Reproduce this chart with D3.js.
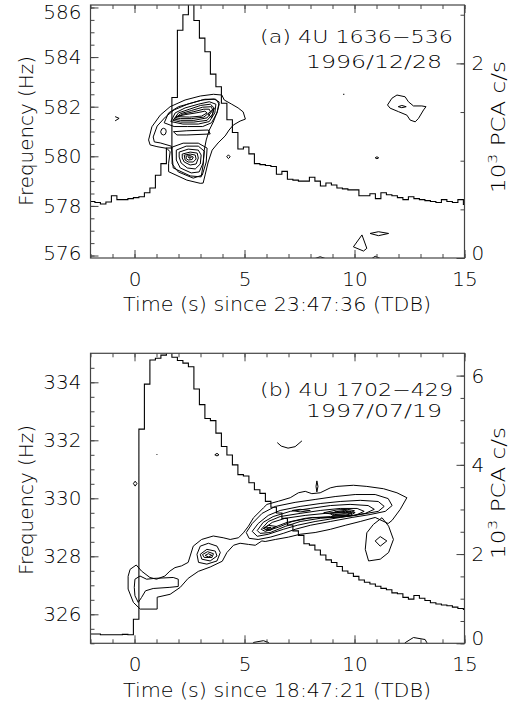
<!DOCTYPE html>
<html>
<head>
<meta charset="utf-8">
<script src="https://cdn.jsdelivr.net/npm/d3@7"></script>
<style>
  body { margin: 0; background: #fff; }
  text { font-family: "DejaVu Sans", sans-serif; font-weight: 200; fill: #000; }
</style>
</head>
<body>
<div id="chart"></div>
<script>
// light curves, 0.25 s bins, first bin starts at t = -2.05 s, in 10^3 PCA c/s
var binStart = -2.05, binWidth = 0.25;
var rateA = [0.58,0.57,0.555,0.575,0.64,0.60,0.60,0.61,0.62,0.63,0.67,0.72,0.85,0.97,1.13,1.65,2.34,2.50,2.75,2.44,
  2.26,2.12,1.89,1.76,1.59,1.42,1.29,1.12,1.14,1.07,0.97,0.96,0.95,0.94,0.86,0.89,0.81,0.80,0.79,0.79,
  0.83,0.79,0.74,0.77,0.75,0.72,0.71,0.70,0.70,0.64,0.64,0.66,0.61,0.67,0.65,0.64,0.62,0.60,0.63,0.61,
  0.60,0.59,0.58,0.57,0.60,0.58,0.57,0.60,0.55];
var rateB = [0.21,0.21,0.19,0.19,0.19,0.19,0.20,0.19,0.54,4.80,5.81,6.35,6.39,6.46,6.55,6.41,6.34,6.28,6.20,5.70,
  5.35,5.04,4.99,4.71,4.41,4.22,4.00,3.78,3.75,3.60,3.44,3.36,3.18,3.05,2.92,2.80,2.65,2.52,2.42,2.23,
  2.20,2.09,1.98,1.87,1.81,1.72,1.62,1.57,1.50,1.42,1.37,1.33,1.28,1.23,1.20,1.13,1.11,1.03,0.99,1.07,
  1.01,0.96,0.91,0.88,0.86,0.84,0.81,0.78,0.76];

// tick labels
var timeTicks = [0, 5, 10, 15];
var freqTicksA = [576, 578, 580, 582, 584, 586];
var freqTicksB = [326, 328, 330, 332, 334];
var rateTicksA = [0, 2];
var rateTicksB = [0, 2, 4, 6];

// power contours, [time (s), frequency (Hz)]
var ringsA = [
  [[0.64,580.66],[0.79,581.19],[1.17,581.66],[1.62,582.00],[2.30,582.27],[2.99,582.43],[3.59,582.50],[3.97,582.47],[4.08,582.27],[4.40,582.11],[4.71,581.95],[4.94,581.79],[5.04,581.50],[4.80,581.42],[4.49,581.26],[4.30,581.06],[4.12,580.82],[3.80,580.54],[3.53,580.25],[3.35,579.77],[3.21,579.25],[3.12,578.92],[2.99,578.91],[2.38,579.04],[1.55,579.38],[1.55,579.72],[1.62,580.18],[1.47,580.32],[1.02,580.39],[0.71,580.46]],
  [[0.85,580.78],[1.03,581.22],[1.40,581.58],[1.80,581.87],[2.44,582.11],[3.08,582.27],[3.62,582.31],[3.85,582.19],[3.76,581.79],[3.58,581.38],[3.40,581.06],[3.26,580.66],[3.17,580.25],[3.12,579.65],[3.03,579.17],[2.53,579.21],[1.76,579.53],[1.71,580.05],[1.67,580.41],[1.17,580.54],[0.90,580.58]],
  [[1.35,581.35],[1.55,581.75],[2.0,582.0],[2.6,582.15],[3.2,582.3],[3.7,582.3],[3.85,582.1],[3.75,581.75],[3.5,581.35],[3.1,581.2],[2.4,581.2],[1.8,581.2]],
  [[1.65,581.4],[1.85,581.75],[2.3,581.95],[2.9,582.1],[3.4,582.2],[3.7,582.1],[3.65,581.75],[3.4,581.4],[2.9,581.3],[2.2,581.3]],
  [[1.75,581.45],[2.0,581.75],[2.5,581.9],[3.0,582.05],[3.45,582.1],[3.62,581.95],[3.55,581.7],[3.3,581.45],[2.7,581.38],[2.1,581.38]],
  [[1.8,581.5],[2.1,581.72],[2.6,581.85],[3.1,581.98],[3.5,582.0],[3.55,581.85],[3.3,581.55],[2.7,581.45],[2.1,581.45]],
  [[1.85,581.55],[2.2,581.7],[2.7,581.8],[3.15,581.9],[3.4,581.9],[3.45,581.8],[3.15,581.58],[2.6,581.52],[2.1,581.52]],
  [[1.9,581.6],[2.3,581.68],[2.8,581.75],[3.2,581.82],[3.3,581.75],[3.05,581.62],[2.5,581.58]],
  [[3.35,581.7],[3.62,581.95],[3.5,581.55]],
  [[1.77,580.99],[2.38,581.03],[3.36,581.06],[3.44,580.90],[2.38,580.86],[1.93,580.86]],
  [[1.71,580.37],[2.21,580.53],[2.90,580.53],[3.30,580.33],[3.26,579.77],[3.08,579.24],[2.67,579.12],[1.99,579.37],[1.71,579.69]],
  [[1.90,580.25],[2.35,580.41],[2.90,580.41],[3.17,580.21],[3.12,579.73],[2.94,579.37],[2.58,579.33],[2.08,579.53],[1.90,579.85]],
  [[2.03,580.17],[2.44,580.29],[2.90,580.25],[3.03,580.05],[2.99,579.69],[2.76,579.49],[2.40,579.53],[2.12,579.73],[2.03,579.97]],
  [[2.17,580.09],[2.53,580.17],[2.85,580.13],[2.90,579.93],[2.80,579.69],[2.53,579.65],[2.26,579.77],[2.17,579.93]],
  [[2.26,580.05],[2.53,580.09],[2.76,580.05],[2.80,579.89],[2.67,579.77],[2.44,579.77],[2.30,579.85]],
  [[2.35,580.01],[2.53,580.03],[2.67,579.97],[2.62,579.87],[2.44,579.85],[2.35,579.91]],
  [[2.44,579.97],[2.58,579.97],[2.53,579.91]],
  [[1.19,580.99],[1.24,581.10],[1.32,581.13],[1.42,581.09],[1.44,580.99],[1.40,580.89],[1.32,580.86],[1.23,580.89]],
  [[4.19,579.98],[4.27,580.06],[4.35,579.98],[4.27,579.91]],
  [[11.50,582.07],[11.70,582.34],[11.93,582.47],[12.30,582.40],[12.45,582.20],[12.68,582.03],[13.06,582.03],[13.25,582.00],[13.14,581.87],[12.91,581.53],[12.76,581.39],[12.53,581.46],[12.38,581.66],[12.00,581.80],[11.62,581.94]],
  [[11.99,582.00],[12.15,582.05],[12.35,582.00],[12.15,581.96]],
  [[10.94,579.94],[11.02,579.98],[11.10,579.94],[11.02,579.90]],
  [[9.95,576.35],[10.34,576.83],[10.56,576.29],[10.41,576.18]],
  [[10.71,576.89],[11.09,576.96],[11.55,576.89],[11.09,576.80]]
];
var tracesA = [
  [[-0.88,581.60],[-0.70,581.53],[-0.88,581.43]],
  [[8.15,575.80],[8.21,575.88],[8.44,575.95],[8.67,575.88],[8.72,575.80]],
  [[10.74,575.80],[10.79,575.88],[10.94,575.97],[11.17,575.88],[11.22,575.80]],
  [[9.48,582.50],[9.54,582.50]]
];

var ringsB = [
  [[-0.29,327.31],[-0.20,327.55],[0.08,327.70],[0.32,327.49],[0.70,327.27],[1.00,327.21],[1.38,327.32],[1.61,327.49],[1.84,327.61],[2.14,327.67],[2.44,327.79],[2.53,328.01],[2.67,328.35],[3.05,328.58],[3.58,328.70],[4.03,328.64],[4.35,328.58],[4.73,328.64],[4.95,328.81],[5.18,329.04],[5.41,329.33],[5.86,329.67],[6.02,329.79],[6.55,329.90],[7.08,330.02],[7.45,330.19],[7.76,330.24],[8.06,330.16],[8.44,330.19],[8.90,330.36],[9.20,330.41],[9.95,330.45],[10.56,330.41],[11.32,330.33],[11.93,330.19],[12.38,330.02],[12.08,329.62],[11.71,329.24],[11.53,329.13],[10.94,329.34],[10.26,329.20],[9.58,329.07],[8.90,328.93],[8.21,328.82],[7.53,328.76],[6.99,328.66],[6.40,328.58],[5.94,328.51],[5.79,328.53],[5.49,328.38],[5.18,328.41],[4.80,328.45],[4.50,328.38],[4.20,328.13],[3.99,327.83],[3.44,327.63],[2.90,327.48],[2.44,327.24],[2.08,326.93],[1.62,326.69],[1.03,326.59],[1.03,326.18],[0.26,326.18],[-0.05,326.41],[-0.29,326.87]],
  [[0.02,327.21],[0.25,327.32],[0.55,327.21],[0.93,327.24],[1.76,327.27],[1.99,327.21],[1.99,326.96],[1.61,326.93],[0.85,326.89],[0.50,326.81],[0.32,326.58],[0.17,326.41],[0.02,326.64],[-0.01,326.93]],
  [[2.84,328.07],[2.99,328.35],[3.36,328.45],[3.75,328.35],[3.90,328.13],[3.75,327.84],[3.29,327.73],[2.91,327.79]],
  [[2.99,328.07],[3.29,328.24],[3.67,328.18],[3.75,328.01],[3.44,327.84],[3.06,327.90]],
  [[3.09,328.06],[3.32,328.16],[3.59,328.09],[3.52,327.96],[3.17,327.96]],
  [[3.21,328.03],[3.36,328.09],[3.52,328.03],[3.36,327.98]],
  [[5.08,328.82],[5.35,329.13],[5.80,329.48],[6.40,329.72],[7.30,329.86],[8.21,329.96],[9.12,330.06],[10.03,330.13],[10.94,330.13],[11.53,329.99],[11.71,329.75],[11.40,329.55],[10.71,329.44],[9.89,329.34],[8.90,329.20],[7.99,329.07],[7.30,328.93],[6.76,328.79],[6.17,328.66],[5.62,328.58],[5.21,328.62]],
  [[5.35,328.86],[5.62,329.13],[6.08,329.41],[6.62,329.58],[7.53,329.72],[8.44,329.82],[9.35,329.89],[10.26,329.93],[11.08,329.89],[11.35,329.72],[11.08,329.55],[10.26,329.44],[9.35,329.34],[8.21,329.20],[7.40,329.07],[6.76,328.93],[6.08,328.76],[5.58,328.69]],
  [[5.58,328.89],[5.85,329.17],[6.30,329.37],[7.08,329.55],[7.99,329.65],[8.90,329.75],[9.80,329.79],[10.62,329.75],[10.90,329.62],[10.49,329.48],[9.58,329.37],[8.44,329.31],[7.53,329.20],[6.85,329.03],[6.17,328.82],[5.71,328.79]],
  [[5.76,328.93],[6.08,329.20],[6.62,329.37],[7.53,329.48],[8.44,329.58],[9.35,329.65],[10.12,329.65],[10.44,329.55],[10.03,329.41],[9.12,329.34],[8.08,329.34],[7.17,329.20],[6.53,329.00],[5.94,328.86]],
  [[5.90,328.96],[6.26,329.17],[6.85,329.31],[7.76,329.41],[8.67,329.48],[9.58,329.55],[10.03,329.51],[9.80,329.41],[8.90,329.37],[7.76,329.31],[6.94,329.17],[6.35,329.00],[5.99,328.89]],
  [[5.85,328.96],[6.08,329.07],[6.44,329.03],[6.17,328.89]],
  [[8.90,329.48],[9.58,329.51],[9.89,329.48],[9.58,329.41],[8.99,329.41]],
  [[8.60,329.50],[9.20,329.60],[9.70,329.62],[10.00,329.57],[9.70,329.46],[9.10,329.44]],
  [[9.10,329.53],[9.55,329.58],[9.85,329.55],[9.55,329.48]],
  [[5.99,328.98],[6.21,329.00],[6.08,328.95]],
  [[7.17,329.58],[7.53,329.62],[7.99,329.58],[7.53,329.53]],
  [[10.56,328.81],[10.86,329.10],[11.25,329.33],[11.55,329.04],[11.77,328.58],[11.55,328.13],[11.17,327.90],[10.64,327.84],[10.49,328.24]],
  [[10.94,328.53],[11.17,328.68],[11.47,328.53],[11.17,328.35]],
  [[-0.05,330.51],[0.03,330.59],[0.11,330.51],[0.03,330.42]],
  [[3.65,331.50],[3.75,331.55],[3.84,331.50],[3.75,331.46]],
  [[8.25,330.41],[8.29,330.60],[8.34,330.41],[8.29,330.22]]
];
var tracesB = [
  [[6.49,331.92],[6.67,331.80],[6.98,331.73],[7.30,331.78],[7.61,331.98]],
  [[5.35,324.95],[5.41,325.03],[5.86,325.09],[6.09,325.03],[6.15,324.95]],
  [[12.25,324.95],[12.30,325.02],[12.68,325.20],[13.21,325.13],[13.29,325.02],[13.33,324.95]],
  [[1.00,331.51],[1.04,331.51]]
];

var W = 526, H = 704, left = 90.5, right = 464.5;

var svg = d3.select("#chart").append("svg")
    .attr("width", W)
    .attr("height", H);

function drawPanel(p) {
  var g = svg.append("g");

  var x = d3.scaleLinear().domain([-2, 15]).range([left, right]);
  var y = d3.scaleLinear().domain(p.freqDomain).range([p.bottom, p.top]);
  var yr = d3.scaleLinear().domain(p.rateDomain).range([p.bottom, p.top]);

  g.append("clipPath").attr("id", "clip" + p.id)
    .append("rect")
      .attr("x", left).attr("y", p.top)
      .attr("width", right - left).attr("height", p.bottom - p.top);

  var plot = g.append("g").attr("clip-path", "url(#clip" + p.id + ")");

  // light curve as a histogram
  var steps = [];
  p.rate.forEach(function (c, i) {
    var t0 = binStart + i * binWidth;
    steps.push([t0, c], [t0 + binWidth, c]);
  });
  plot.append("path")
    .datum(steps)
    .attr("d", d3.line().x(d => x(d[0])).y(d => yr(d[1])))
    .attr("fill", "none")
    .attr("stroke", "#000")
    .attr("stroke-width", 1.1);

  var closedLine = d3.line().x(d => x(d[0])).y(d => y(d[1])).curve(d3.curveLinearClosed);
  var openLine = d3.line().x(d => x(d[0])).y(d => y(d[1]));

  plot.selectAll("path.ring")
    .data(p.rings)
    .enter().append("path")
      .attr("class", "ring")
      .attr("d", closedLine)
      .attr("fill", "none")
      .attr("stroke", "#000")
      .attr("stroke-width", 1);

  plot.selectAll("path.trace")
    .data(p.traces)
    .enter().append("path")
      .attr("class", "trace")
      .attr("d", openLine)
      .attr("fill", "none")
      .attr("stroke", "#000")
      .attr("stroke-width", 1);

  // axes, ticks pointing inward like the IDL plot
  function clampLabels(sel, scale) {
    sel.selectAll(".tick text").attr("y", function (d) {
      var py = scale(d);
      var c = Math.min(Math.max(py, p.top + 7.5), p.bottom - 5);
      return c - py;
    });
  }

  var minorTime = d3.range(-2, 15.01, 1);
  var minorFreq = d3.range(Math.ceil(p.freqDomain[0] * 2) / 2, p.freqDomain[1], 0.5);
  var minorRate = d3.range(0, p.rateDomain[1], 0.5);

  var axes = [
    [d3.axisLeft(y).tickValues(minorFreq).tickSize(-4).tickFormat(""), left, 0],
    [d3.axisRight(yr).tickValues(minorRate).tickSize(-4).tickFormat(""), right, 0],
    [d3.axisBottom(x).tickValues(minorTime).tickSize(-4).tickFormat(""), 0, p.bottom],
    [d3.axisTop(x).tickValues(minorTime).tickSize(-4).tickFormat(""), 0, p.top],
    [d3.axisTop(x).tickValues(timeTicks).tickSize(-8).tickFormat(""), 0, p.top]
  ];
  axes.forEach(function (a) {
    g.append("g").attr("transform", "translate(" + a[1] + "," + a[2] + ")").call(a[0])
      .call(s => s.select(".domain").remove());
  });

  var yl = g.append("g").attr("transform", "translate(" + left + ",0)")
    .call(d3.axisLeft(y).tickValues(p.freqTicks).tickSize(-8).tickPadding(9).tickFormat(d3.format("d")));
  clampLabels(yl, y);

  var yrAxis = g.append("g").attr("transform", "translate(" + right + ",0)")
    .call(d3.axisRight(yr).tickValues(p.rateTicks).tickSize(-8).tickPadding(7).tickFormat(d3.format("d")));
  clampLabels(yrAxis, yr);

  g.append("g").attr("transform", "translate(0," + p.bottom + ")")
    .call(d3.axisBottom(x).tickValues(timeTicks).tickSize(-8).tickPadding(14).tickFormat(d3.format("d")));

  g.selectAll(".domain").remove();
  g.selectAll(".tick line").attr("stroke", "#444");
  g.selectAll(".tick text").attr("font-size", 20).attr("fill", "#000")
    .attr("font-family", "'DejaVu Sans', sans-serif").attr("font-weight", 200);

  g.append("rect")
    .attr("x", left).attr("y", p.top)
    .attr("width", right - left).attr("height", p.bottom - p.top)
    .attr("fill", "none")
    .attr("stroke", "#444")
    .attr("stroke-width", 1.2);

  // titles, stretched to the widths of the original lettering
  g.append("text")
    .attr("x", 123).attr("y", p.xTitleY)
    .attr("font-size", 19)
    .attr("textLength", 308).attr("lengthAdjust", "spacingAndGlyphs")
    .text(p.xTitle);

  g.append("text")
    .attr("transform", "translate(33," + p.yTitleMid + ") rotate(-90)")
    .attr("x", -75)
    .attr("font-size", 19)
    .attr("textLength", 150).attr("lengthAdjust", "spacingAndGlyphs")
    .text("Frequency (Hz)");

  var rt = g.append("text")
    .attr("transform", "translate(505," + p.rTitleMid + ") rotate(-90)")
    .attr("x", -66)
    .attr("font-size", 19)
    .attr("textLength", 132).attr("lengthAdjust", "spacingAndGlyphs");
  rt.append("tspan").text("10");
  rt.append("tspan").attr("dy", -8).attr("font-size", 13).text("3");
  rt.append("tspan").attr("dy", 8).text(" PCA c/s");

  g.append("text")
    .attr("x", 260).attr("y", p.labelY)
    .attr("font-size", 18)
    .attr("textLength", 193).attr("lengthAdjust", "spacingAndGlyphs")
    .text(p.label1);
  g.append("text")
    .attr("x", 306).attr("y", p.labelY + p.labelGap)
    .attr("font-size", 18)
    .attr("textLength", 136).attr("lengthAdjust", "spacingAndGlyphs")
    .text(p.label2);
}

drawPanel({
  id: "a", top: 5, bottom: 258,
  freqDomain: [575.9, 586.1], rateDomain: [0, 2.6],
  freqTicks: freqTicksA, rateTicks: rateTicksA,
  rate: rateA, rings: ringsA, traces: tracesA,
  xTitle: "Time (s) since 23:47:36 (TDB)", xTitleY: 311,
  yTitleMid: 131, rTitleMid: 127,
  label1: "(a) 4U 1636\u2212536", label2: "1996/12/28", labelY: 43, labelGap: 25
});

drawPanel({
  id: "b", top: 353.3, bottom: 643.3,
  freqDomain: [325, 335], rateDomain: [0, 6.5],
  freqTicks: freqTicksB, rateTicks: rateTicksB,
  rate: rateB, rings: ringsB, traces: tracesB,
  xTitle: "Time (s) since 18:47:21 (TDB)", xTitleY: 697,
  yTitleMid: 500, rTitleMid: 493,
  label1: "(b) 4U 1702\u2212429", label2: "1997/07/19", labelY: 396, labelGap: 21
});
</script>
</body>
</html>
